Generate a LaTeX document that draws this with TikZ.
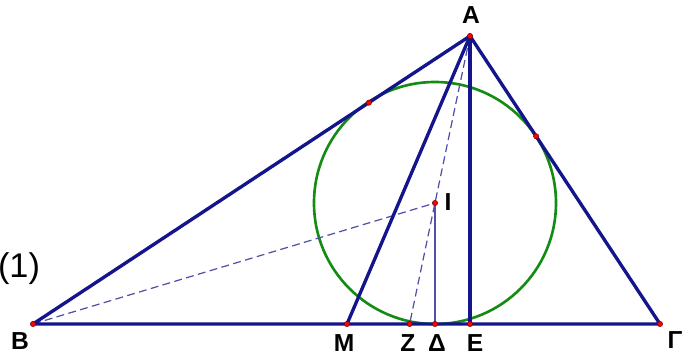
\documentclass[tikz,border=0pt]{standalone}
\usepackage{fontspec}
\setmainfont{Liberation Sans}
\usetikzlibrary{calc}
\definecolor{navy}{RGB}{20,20,140}
\definecolor{geogreen}{RGB}{20,140,20}
\definecolor{dashblue}{RGB}{80,80,170}
\begin{document}
\begin{tikzpicture}[x=0.02cm,y=-0.02cm,
  side/.style={draw=navy,line width=1.9pt},
  thinline/.style={draw=dashblue,line width=0.7pt},
  dashline/.style={draw=dashblue,line width=0.7pt,dash pattern=on 4.5pt off 2.5pt},
  incircle/.style={draw=geogreen,line width=1.5pt},
  pt/.style={circle,fill=red,draw=red!50!black,line width=0.3pt,inner sep=0pt,minimum size=3pt},
  lab/.style={font=\fontsize{14}{16}\selectfont\bfseries,text=black,inner sep=0pt}]
\useasboundingbox (0,0) rectangle (691,359);
\coordinate (A) at (470,36);
\coordinate (B) at (33,324);
\coordinate (G) at (660,324);
\coordinate (M) at (347,324);
\coordinate (I) at (435,203);
\coordinate (Z) at (409.6,324);
\coordinate (D) at (435,324);
\coordinate (E) at (470,324);
\coordinate (T1) at ($(A)!(I)!(B)$);
\coordinate (T2) at ($(A)!(I)!(G)$);
% circle
\draw[incircle] (I) circle (121);
% dashed and thin
\draw[dashline] (B) -- (I);
\draw[dashline] (A) -- (Z);
\draw[thinline] (I) -- (D);
% sides
\draw[side,line join=round] (B) -- (A) -- (G) -- cycle;
\draw[side] (A) -- (M);
\draw[side] (A) -- (E);
% points
\foreach \p in {A,B,G,M,I,Z,D,E,T1,T2} \node[pt] at (\p) {};
% labels
\node[lab] (lA) at (471,15) {A};
\node[lab] (lB) at (20,341) {B};
\node[lab] (lG) at (675,340) {Γ};
\node[lab] (lM) at (344,343) {M};
\node[lab] (lZ) at (408,343) {Z};
\node[lab] (lD) at (437,343) {Δ};
\node[lab] (lE) at (475,343) {E};
\node[lab] (lI) at (448,202) {I};
\node[font=\fontsize{19.5}{22}\selectfont,inner sep=0pt] (n1) at (19,269) {(1)};
\end{tikzpicture}
\end{document}
